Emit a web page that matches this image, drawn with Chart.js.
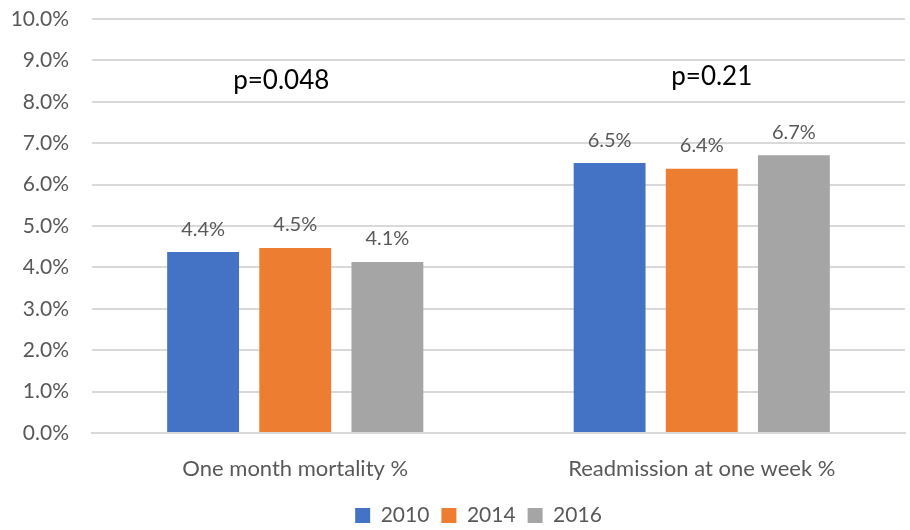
<!DOCTYPE html>
<html>
<head>
<meta charset="utf-8">
<script src="https://cdn.jsdelivr.net/npm/chart.js@4"></script>
<style>
  html, body { margin: 0; padding: 0; background: #ffffff; }
  #wrap { width: 910px; height: 530px; }
</style>
</head>
<body>
<div id="wrap"><canvas id="chart" width="910" height="530"></canvas></div>
<script>
const categories = ["One month mortality %", "Readmission at one week %"];
const years = ["2010", "2014", "2016"];
const values2010 = [4.37, 6.52];
const values2014 = [4.47, 6.38];
const values2016 = [4.13, 6.71];
const pValues = ["p=0.048", "p=0.21"];
const pValueY = [8.5, 8.6];
const pValueShift = [-14, 10];
const yTicks = [0, 1, 2, 3, 4, 5, 6, 7, 8, 9, 10];

const colors = ["#4472c4", "#ed7d31", "#a5a5a5"];
const textColor = "#595959";
const fontFamily = "Lato, 'Open Sans', sans-serif";

// squeeze the legend box and nudge it right, like the original
const legendFit = {
  id: "legendFit",
  beforeInit(chart) {
    const fit = chart.legend.fit;
    chart.legend.fit = function () {
      fit.call(this);
      this.height = 37;
    };
  },
  afterUpdate(chart) {
    chart.legend.left += 26;
    chart.legend.right += 26;
  }
};

const barLabels = {
  id: "barLabels",
  afterDatasetsDraw(chart) {
    const ctx = chart.ctx;
    ctx.save();
    ctx.font = "20px " + fontFamily;
    ctx.fillStyle = textColor;
    ctx.textAlign = "center";
    ctx.textBaseline = "bottom";
    chart.data.datasets.forEach((ds, i) => {
      chart.getDatasetMeta(i).data.forEach((bar, j) => {
        ctx.fillText(ds.data[j].toFixed(1) + "%", bar.x, bar.y - 13);
      });
    });
    // p-values above each group
    const xs = chart.scales.x;
    const ys = chart.scales.y;
    ctx.font = "26px " + fontFamily;
    ctx.fillStyle = "#000000";
    ctx.textBaseline = "middle";
    pValues.forEach((p, j) => {
      ctx.fillText(p, xs.getPixelForValue(j) + pValueShift[j], ys.getPixelForValue(pValueY[j]));
    });
    ctx.restore();
  }
};

new Chart(document.getElementById("chart"), {
  type: "bar",
  data: {
    labels: categories,
    datasets: [
      { label: years[0], data: values2010, backgroundColor: colors[0] },
      { label: years[1], data: values2014, backgroundColor: colors[1] },
      { label: years[2], data: values2016, backgroundColor: colors[2] }
    ]
  },
  options: {
    responsive: false,
    animation: false,
    layout: { padding: { left: 0, right: 5, top: 0, bottom: 0 } },
    plugins: {
      legend: {
        position: "bottom",
        labels: {
          color: textColor,
          font: { size: 21, family: fontFamily },
          boxWidth: 15,
          boxHeight: 15,
          padding: 12
        }
      },
      tooltip: { enabled: false }
    },
    datasets: {
      bar: { barPercentage: 0.78, categoryPercentage: 0.68 }
    },
    scales: {
      x: {
        grid: { display: false },
        border: { color: "#d9d9d9", width: 2 },
        ticks: { color: textColor, font: { size: 22, family: fontFamily }, padding: 15 },
        afterFit(axis) { axis.height = 60; }
      },
      y: {
        min: 0,
        max: 10,
        afterBuildTicks(axis) { axis.ticks = yTicks.map(v => ({ value: v })); },
        afterFit(axis) {
          axis.width = 92;
          axis.paddingTop = 19;
          axis.paddingBottom = 0;
        },
        grid: { color: "#d9d9d9", lineWidth: 2, drawTicks: false },
        border: { display: false },
        ticks: {
          color: textColor,
          font: { size: 21, family: fontFamily },
          padding: 23,
          callback: v => v.toFixed(1) + "%"
        }
      }
    }
  },
  plugins: [barLabels, legendFit]
});
</script>
</body>
</html>
